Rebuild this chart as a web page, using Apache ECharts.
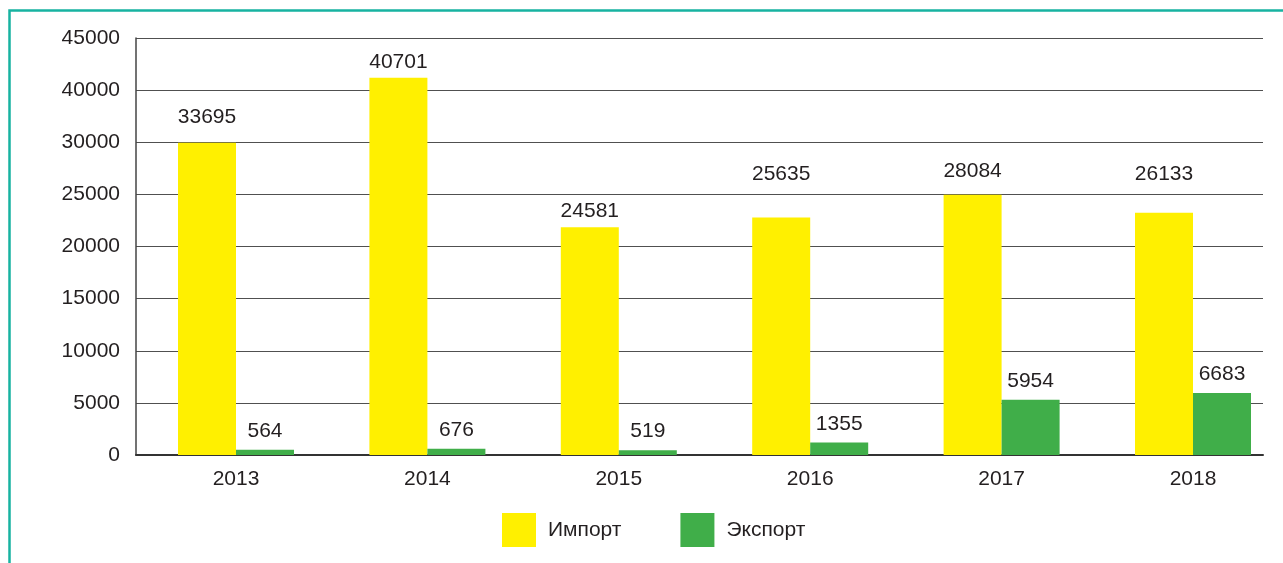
<!DOCTYPE html>
<html>
<head>
<meta charset="utf-8">
<title>Импорт и экспорт</title>
<script src="https://cdn.jsdelivr.net/npm/echarts@6/dist/echarts.min.js"></script>
<style>
  html, body { margin: 0; padding: 0; background: #fff; }
  #chart { width: 1283px; height: 563px; }
</style>
</head>
<body>
<div id="chart"></div>
<script>
const years = ['2013', '2014', '2015', '2016', '2017', '2018']
const importValues = [33695, 40701, 24581, 25635, 28084, 26133]
const exportValues = [564, 676, 519, 1355, 5954, 6683]
// axis labels as printed in the source (the 35000 line is missing there)
const yTickLabels = ['0', '5000', '10000', '15000', '20000', '25000', '30000', '40000', '45000']

const font = 'Liberation Sans, Arial, sans-serif'
const ink = '#231f20'

// the value labels over the yellow bars sit at uneven heights in the source
const importLabelGap = [15, 5, 6, 33, 13, 28]

const chart = echarts.init(document.getElementById('chart'))

chart.setOption({
  animation: false,
  backgroundColor: '#fff',
  textStyle: { fontFamily: font, color: ink },
  graphic: [{
    type: 'polyline',
    shape: { points: [[9.5, 563], [9.5, 10.5], [1283, 10.5]] },
    style: { stroke: '#17b3a1', lineWidth: 2.5, fill: null },
    silent: true
  }],
  legend: {
    data: ['Импорт', 'Экспорт'],
    left: 502,
    top: 513,
    padding: 0,
    itemWidth: 34,
    itemHeight: 34,
    itemGap: 59,
    icon: 'rect',
    textStyle: { fontSize: 21, color: ink, fontFamily: font, padding: [0, 0, 0, 7] }
  },
  grid: [
    { left: 136, right: 20, top: 38, bottom: 108 },
    // bars grid: category centres sit on its edges (boundaryGap off)
    { left: 236, right: 90, top: 38, bottom: 108 }
  ],
  xAxis: [
    {
      gridIndex: 0,
      type: 'category',
      data: years,
      axisLine: { show: true, lineStyle: { color: '#333', width: 2 } },
      axisTick: { show: false },
      axisLabel: { show: false },
      splitLine: { show: false }
    },
    {
      gridIndex: 1,
      type: 'category',
      data: years,
      boundaryGap: false,
      axisLine: { show: false },
      axisTick: { show: false },
      axisLabel: { fontSize: 21, color: ink, fontFamily: font, margin: 14 },
      splitLine: { show: false }
    }
  ],
  yAxis: [
    {
      gridIndex: 0,
      type: 'value',
      min: 0,
      max: 40000,
      interval: 5000,
      axisLine: { show: true, lineStyle: { color: '#444', width: 1.5 } },
      axisTick: { show: false },
      axisLabel: {
        fontSize: 21,
        color: ink,
        fontFamily: font,
        margin: 16,
        formatter: v => yTickLabels[Math.round(v / 5000)]
      },
      splitLine: { show: true, lineStyle: { color: '#505050', width: 1.2 } }
    },
    {
      gridIndex: 1,
      type: 'value',
      min: 0,
      max: 45000,
      show: false,
      splitLine: { show: false }
    }
  ],
  series: [
    {
      name: 'Импорт',
      type: 'bar',
      xAxisIndex: 1,
      yAxisIndex: 1,
      barWidth: 58,
      barGap: '0%',
      itemStyle: { color: '#fff000' },
      label: { show: true, position: 'top', fontSize: 21, color: ink, fontFamily: font },
      data: importValues.map((v, i) => ({ value: v, label: { distance: importLabelGap[i] } }))
    },
    {
      name: 'Экспорт',
      type: 'bar',
      xAxisIndex: 1,
      yAxisIndex: 1,
      barWidth: 58,
      barGap: '0%',
      itemStyle: { color: '#40ae49' },
      label: { show: true, position: 'top', distance: 8, fontSize: 21, color: ink, fontFamily: font },
      data: exportValues
    }
  ]
})
</script>
</body>
</html>
